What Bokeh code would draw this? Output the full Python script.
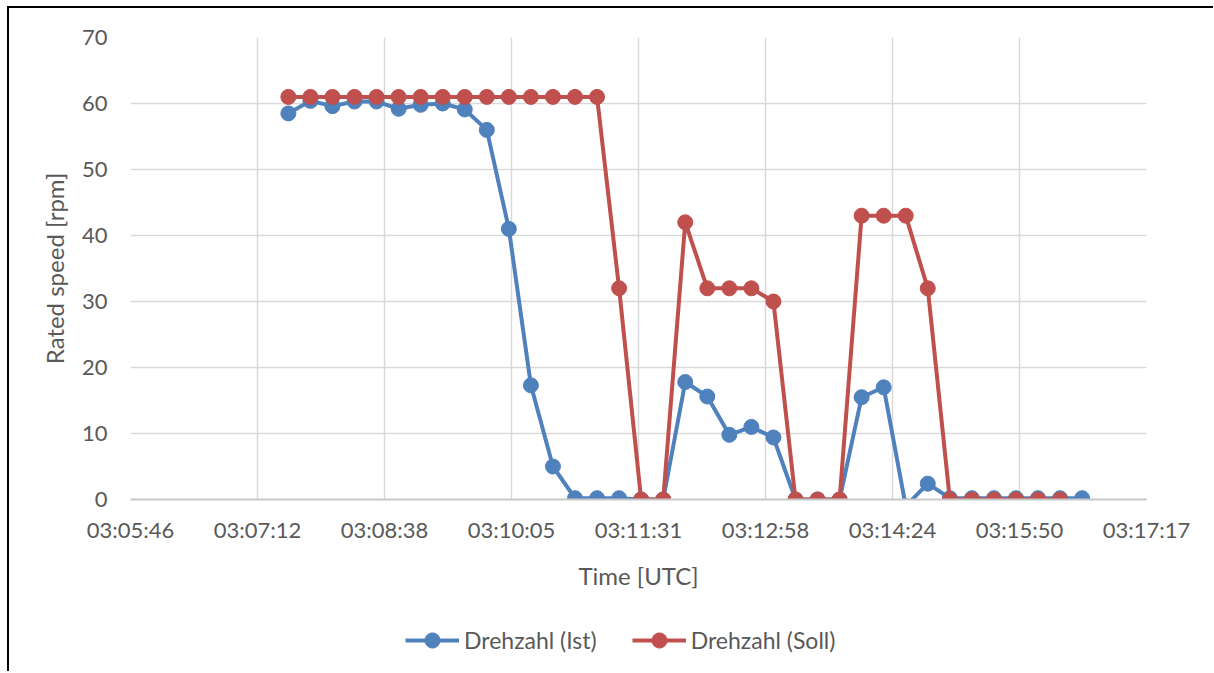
from bokeh.plotting import figure
from bokeh.models import FixedTicker, CustomJSTickFormatter, Legend, LegendItem, Range1d
from bokeh.layouts import column
from bokeh.embed import file_html
from bokeh.resources import INLINE

# ---- data ----
time_labels = [
    "03:07:33", "03:07:48", "03:08:03", "03:08:18", "03:08:33", "03:08:48",
    "03:09:03", "03:09:18", "03:09:33", "03:09:48", "03:10:03", "03:10:18",
    "03:10:33", "03:10:48", "03:11:03", "03:11:18", "03:11:33", "03:11:48",
    "03:12:03", "03:12:18", "03:12:33", "03:12:48", "03:13:03", "03:13:18",
    "03:13:33", "03:13:48", "03:14:03", "03:14:18", "03:14:33", "03:14:48",
    "03:15:03", "03:15:18", "03:15:33", "03:15:48", "03:16:03", "03:16:18",
    "03:16:33",
]
drehzahl_ist = [
    58.5, 60.4, 59.6, 60.3, 60.3, 59.2, 59.8, 60.0, 59.1, 56.0,
    41.0, 17.3, 5.0, 0.2, 0.2, 0.2, 0.0, 0.0, 17.8, 15.6,
    9.8, 11.0, 9.4, 0.0, 0.0, 0.0, 15.5, 17.0, -1.0, 2.4,
    0.2, 0.2, 0.2, 0.2, 0.2, 0.2, 0.2,
]
drehzahl_soll = [
    61, 61, 61, 61, 61, 61, 61, 61, 61, 61,
    61, 61, 61, 61, 61, 32, 0, 0, 42, 32,
    32, 32, 30, 0, 0, 0, 43, 43, 43, 32,
    0, 0, 0, 0, 0, 0,
]
series_names = ["Drehzahl (Ist)", "Drehzahl (Soll)"]
x_tick_days = [0.129, 0.130, 0.131, 0.132, 0.133, 0.134, 0.135, 0.136, 0.137]
y_ticks = [0, 10, 20, 30, 40, 50, 60, 70]


def to_seconds(s):
    h, m, sec = (int(v) for v in s.split(":"))
    return h * 3600 + m * 60 + sec


t_ist = [to_seconds(s) for s in time_labels]
t_soll = t_ist[:len(drehzahl_soll)]
x_ticks = [d * 86400 for d in x_tick_days]

FONT = "Lato"
TXT = "#595959"
GRID = "#d9d9d9"
BLUE = "#4f81bd"
RED = "#c0504d"
LW = 4
MS = 15
W = 1204

# ---------------- main chart ----------------
p = figure(
    width=W, height=600,
    output_backend="svg", toolbar_location=None,
    x_range=Range1d(x_ticks[0], x_ticks[-1]),
    y_range=Range1d(y_ticks[0], y_ticks[-1]),
    min_border_left=121, min_border_right=67,
    min_border_top=29, min_border_bottom=109,
)
p.outline_line_color = None
p.background_fill_color = "white"
p.border_fill_color = "white"

p.xaxis.ticker = FixedTicker(ticks=x_ticks)
p.xaxis.formatter = CustomJSTickFormatter(code="""
    const s = Math.round(tick);
    const h = Math.floor(s / 3600), m = Math.floor((s % 3600) / 60), sec = s % 60;
    const pad = (v) => String(v).padStart(2, '0');
    return pad(h) + ':' + pad(m) + ':' + pad(sec);
""")
p.yaxis.ticker = FixedTicker(ticks=y_ticks)

for ax in (p.xaxis[0], p.yaxis[0]):
    ax.major_tick_line_color = None
    ax.minor_tick_line_color = None
    ax.major_label_text_font = FONT
    ax.major_label_text_font_size = "22px"
    ax.major_label_text_color = TXT
    ax.axis_label_text_font = FONT
    ax.axis_label_text_font_size = "24px"
    ax.axis_label_text_font_style = "normal"
    ax.axis_label_text_color = TXT

p.xaxis.axis_line_color = "#c8c8c8"
p.xaxis.axis_line_width = 2
p.yaxis.axis_line_color = None
p.xaxis.major_label_standoff = 10
p.yaxis.major_label_standoff = 17
p.xaxis.axis_label = "Time [UTC]"
p.yaxis.axis_label = "Rated speed [rpm]"
p.xaxis.axis_label_standoff = 15
p.yaxis.axis_label_standoff = 10

p.xgrid.grid_line_color = GRID
p.ygrid.grid_line_color = GRID
p.xgrid.grid_line_width = 1.5
p.ygrid.grid_line_width = 1.5

p.line(t_ist, drehzahl_ist, line_color=BLUE, line_width=LW)
p.scatter(t_ist, drehzahl_ist, size=MS, fill_color=BLUE, line_color=BLUE)
p.line(t_soll, drehzahl_soll, line_color=RED, line_width=LW)
p.scatter(t_soll, drehzahl_soll, size=MS, fill_color=RED, line_color=RED)

# ---------------- legend strip ----------------
# Same series re-plotted into a strip whose ranges keep them out of view,
# so that only the legend (line + marker swatches) is visible.
lg = figure(
    width=W, height=63,
    output_backend="svg", toolbar_location=None,
    x_axis_type=None, y_axis_type=None,
    x_range=Range1d(0, 1), y_range=Range1d(1000, 1001),
    min_border_left=0, min_border_right=0, min_border_top=0, min_border_bottom=0,
)
lg.outline_line_color = None
lg.xgrid.visible = False
lg.ygrid.visible = False
lg.border_fill_color = "white"

items = []
for name, col, tt, vv in zip(series_names, [BLUE, RED],
                             [t_ist, t_soll], [drehzahl_ist, drehzahl_soll]):
    lr = lg.line(tt, vv, line_color=col, line_width=LW)
    sr = lg.scatter(tt, vv, size=MS, fill_color=col, line_color=col)
    items.append(LegendItem(label=name, renderers=[lr, sr]))

legend = Legend(
    items=items,
    location=(275, 12),
    orientation="horizontal",
    border_line_color=None,
    background_fill_alpha=0,
    label_text_font=FONT,
    label_text_font_size="23px",
    label_text_color=TXT,
    glyph_width=54,
    glyph_height=38,
    label_standoff=5,
    spacing=35,
    padding=0,
    margin=0,
)
lg.add_layout(legend, "center")

layout = column(p, lg, spacing=0, styles={
    "border-top": "2px solid black", "border-left": "2px solid black",
    "margin-top": "6px", "margin-left": "7px",
})

open("out.html", "w").write(file_html(layout, INLINE))
